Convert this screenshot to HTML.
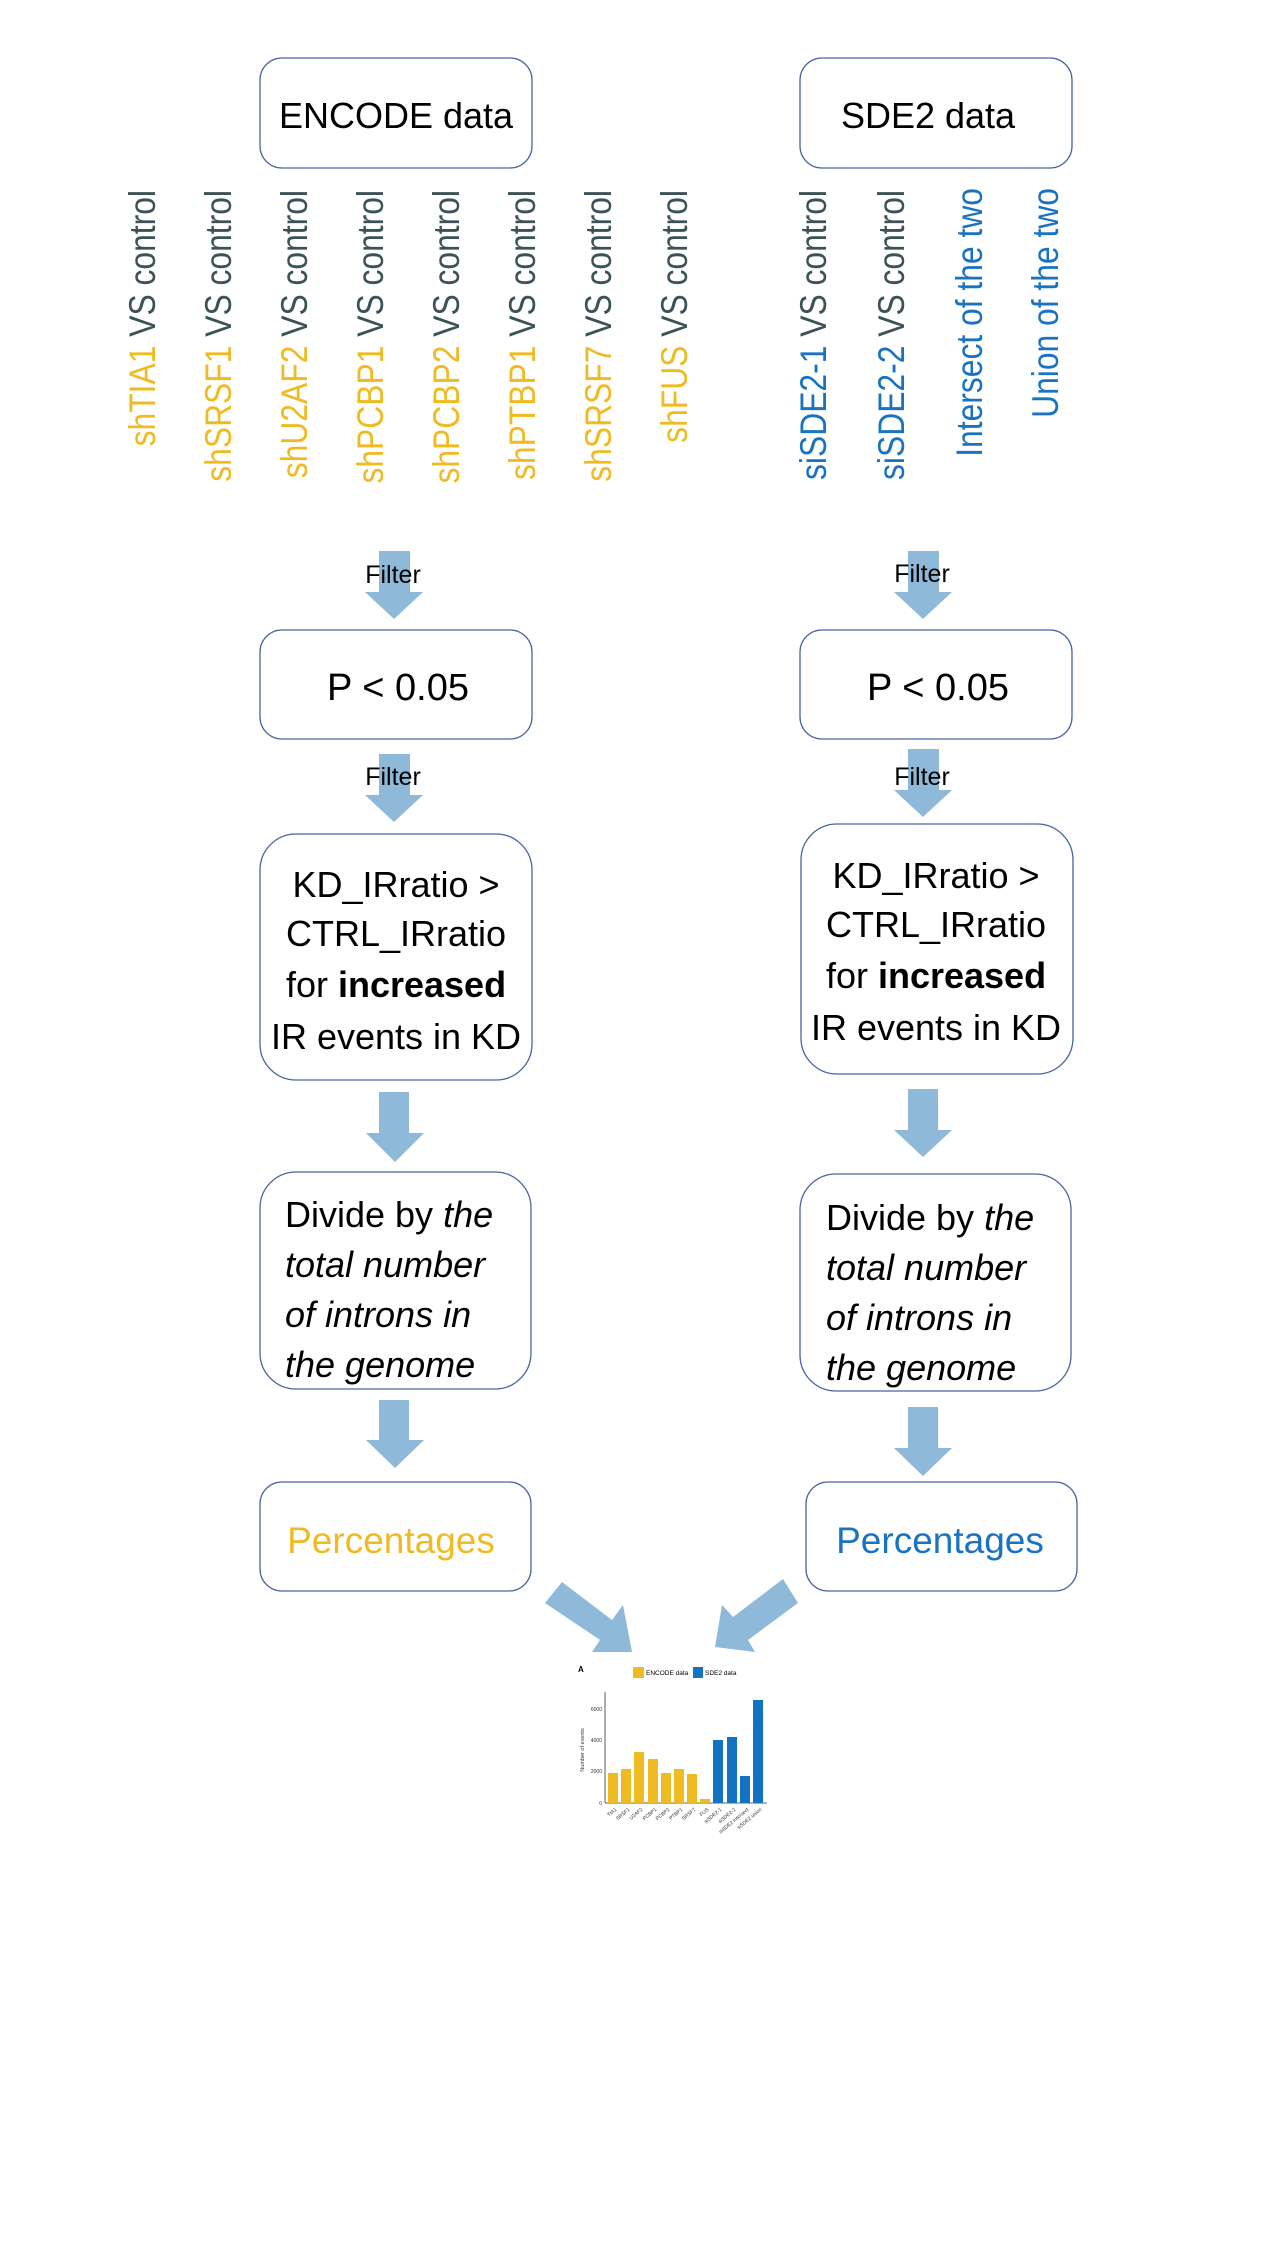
<!DOCTYPE html>
<html><head><meta charset="utf-8"><style>
html,body{margin:0;padding:0;background:#fff;}
svg{display:block;}
text{font-family:"Liberation Sans",sans-serif;}
</style></head><body>
<svg width="1265" height="2249" viewBox="0 0 1265 2249" xmlns="http://www.w3.org/2000/svg">
<rect width="1265" height="2249" fill="#fff"/>
<g fill="#fff" stroke="#4a64a0" stroke-width="1.3">
<rect x="260" y="58" width="272" height="110" rx="22"/>
<rect x="800" y="58" width="272" height="110" rx="22"/>
<rect x="260" y="630" width="272" height="109" rx="22"/>
<rect x="800" y="630" width="272" height="109" rx="22"/>
<rect x="260" y="834" width="272" height="246" rx="36"/>
<rect x="801" y="824" width="272" height="250" rx="36"/>
<rect x="260" y="1172" width="271" height="217" rx="36"/>
<rect x="800" y="1174" width="271" height="217" rx="36"/>
<rect x="260" y="1482" width="271" height="109" rx="22"/>
<rect x="806" y="1482" width="271" height="109" rx="22"/>
</g>
<g font-size="36" fill="#000" text-anchor="middle">
<text x="396" y="128">ENCODE data</text>
<text x="928" y="128">SDE2 data</text>
<text x="398" y="700" font-size="38">P &lt; 0.05</text>
<text x="938" y="700" font-size="38">P &lt; 0.05</text>
<text x="396" y="897">KD_IRratio &gt;</text>
<text x="396" y="946">CTRL_IRratio</text>
<text x="396" y="997">for <tspan font-weight="bold">increased</tspan></text>
<text x="396" y="1049">IR events in KD</text>
<text x="936" y="888">KD_IRratio &gt;</text>
<text x="936" y="937">CTRL_IRratio</text>
<text x="936" y="988">for <tspan font-weight="bold">increased</tspan></text>
<text x="936" y="1040">IR events in KD</text>
</g>
<g font-size="36" fill="#000" text-anchor="start">
<text x="285" y="1227">Divide by <tspan font-style="italic">the</tspan></text>
<text x="285" y="1277" font-style="italic">total number</text>
<text x="285" y="1327" font-style="italic">of introns in</text>
<text x="285" y="1377" font-style="italic">the genome</text>
<text x="826" y="1230">Divide by <tspan font-style="italic">the</tspan></text>
<text x="826" y="1280" font-style="italic">total number</text>
<text x="826" y="1330" font-style="italic">of introns in</text>
<text x="826" y="1380" font-style="italic">the genome</text>
</g>
<text x="391" y="1553" font-size="37" fill="#efbb23" text-anchor="middle">Percentages</text>
<text x="940" y="1553" font-size="37" fill="#1a73c1" text-anchor="middle">Percentages</text>
<!-- rotated labels -->
<g font-size="37" text-anchor="end">
<text transform="translate(155,190) rotate(-90) scale(0.86,1)"><tspan fill="#efbb23">shTIA1</tspan><tspan fill="#3c5257"> VS control</tspan></text>
<text transform="translate(231,190) rotate(-90) scale(0.86,1)"><tspan fill="#efbb23">shSRSF1</tspan><tspan fill="#3c5257"> VS control</tspan></text>
<text transform="translate(307,190) rotate(-90) scale(0.86,1)"><tspan fill="#efbb23">shU2AF2</tspan><tspan fill="#3c5257"> VS control</tspan></text>
<text transform="translate(383,190) rotate(-90) scale(0.86,1)"><tspan fill="#efbb23">shPCBP1</tspan><tspan fill="#3c5257"> VS control</tspan></text>
<text transform="translate(459,190) rotate(-90) scale(0.86,1)"><tspan fill="#efbb23">shPCBP2</tspan><tspan fill="#3c5257"> VS control</tspan></text>
<text transform="translate(535,190) rotate(-90) scale(0.86,1)"><tspan fill="#efbb23">shPTBP1</tspan><tspan fill="#3c5257"> VS control</tspan></text>
<text transform="translate(611,190) rotate(-90) scale(0.86,1)"><tspan fill="#efbb23">shSRSF7</tspan><tspan fill="#3c5257"> VS control</tspan></text>
<text transform="translate(687,190) rotate(-90) scale(0.86,1)"><tspan fill="#efbb23">shFUS</tspan><tspan fill="#3c5257"> VS control</tspan></text>
<text transform="translate(826,190) rotate(-90) scale(0.86,1)"><tspan fill="#1a73c1">siSDE2-1</tspan><tspan fill="#3c5257"> VS control</tspan></text>
<text transform="translate(904,190) rotate(-90) scale(0.86,1)"><tspan fill="#1a73c1">siSDE2-2</tspan><tspan fill="#3c5257"> VS control</tspan></text>
<text transform="translate(982,188) rotate(-90) scale(0.86,1)" fill="#1a73c1">Intersect of the two</text>
<text transform="translate(1058,188) rotate(-90) scale(0.86,1)" fill="#1a73c1">Union of the two</text>
</g>
<!-- arrows -->
<g fill="#8fb9d8">
<polygon points="379,551 410,551 410,592 423,592 394,619 365,592 379,592"/>
<polygon points="908,551 939,551 939,592 952,592 923,619 894,592 908,592"/>
<polygon points="379,754 410,754 410,795 423,795 394,822 365,795 379,795"/>
<polygon points="908,749 939,749 939,790 952,790 923,817 894,790 908,790"/>
<polygon points="379,1092 409,1092 409,1133 424,1133 395,1162 366,1133 379,1133"/>
<polygon points="908,1089 938,1089 938,1130 952,1130 923,1157 894,1130 908,1130"/>
<polygon points="379,1400 409,1400 409,1440 424,1440 395,1468 366,1440 379,1440"/>
<polygon points="908,1407 938,1407 938,1448 952,1448 923,1476 894,1448 908,1448"/>
<polygon points="545,1603 562,1582 612,1620 623,1605 632,1652 592,1652 600,1640"/>
<polygon points="783,1579 798,1603 748,1640 755,1652 715,1647 722,1605 733,1617"/>
</g>
<g font-size="25" fill="#000" text-anchor="middle">
<text x="393" y="583">Filter</text>
<text x="922" y="582">Filter</text>
<text x="393" y="785">Filter</text>
<text x="922" y="785">Filter</text>
</g>
<!-- chart -->
<g font-family="Liberation Sans,sans-serif">
<text x="578" y="1672" font-size="8" font-weight="bold">A</text>
<rect x="633" y="1667" width="11" height="11" fill="#efbb23"/>
<text x="646" y="1675" font-size="6.5">ENCODE data</text>
<rect x="693" y="1667" width="10" height="11" fill="#1273c3"/>
<text x="705" y="1675" font-size="6.5">SDE2 data</text>
<line x1="605" y1="1692" x2="605" y2="1803" stroke="#333" stroke-width="0.8"/>
<line x1="605" y1="1803" x2="767" y2="1803" stroke="#333" stroke-width="0.8"/>
<g font-size="5" text-anchor="end" fill="#333">
<text x="602" y="1711">6000</text><text x="602" y="1742">4000</text><text x="602" y="1773">2000</text><text x="602" y="1805">0</text>
</g>
<text transform="translate(584,1750) rotate(-90)" font-size="5.5" text-anchor="middle" fill="#333">Number of events</text>
<g fill="#efbb23">
<rect x="608" y="1773" width="10" height="30"/>
<rect x="621" y="1769" width="10" height="34"/>
<rect x="634" y="1752" width="10" height="51"/>
<rect x="648" y="1759" width="10" height="44"/>
<rect x="661" y="1773" width="10" height="30"/>
<rect x="674" y="1769" width="10" height="34"/>
<rect x="687" y="1774" width="10" height="29"/>
<rect x="700" y="1799" width="10" height="4"/>
</g>
<g fill="#1273c3">
<rect x="713" y="1740" width="10" height="63"/>
<rect x="727" y="1737" width="10" height="66"/>
<rect x="740" y="1776" width="10" height="27"/>
<rect x="753" y="1700" width="10" height="103"/>
</g>
<g font-size="5" fill="#333" text-anchor="end">
<text transform="translate(617,1810) rotate(-40)">TIA1</text>
<text transform="translate(630,1810) rotate(-40)">SRSF1</text>
<text transform="translate(643,1810) rotate(-40)">U2AF2</text>
<text transform="translate(657,1810) rotate(-40)">PCBP1</text>
<text transform="translate(670,1810) rotate(-40)">PCBP2</text>
<text transform="translate(683,1810) rotate(-40)">PTBP1</text>
<text transform="translate(696,1810) rotate(-40)">SRSF7</text>
<text transform="translate(709,1810) rotate(-40)">FUS</text>
<text transform="translate(722,1810) rotate(-40)">siSDE2-1</text>
<text transform="translate(736,1810) rotate(-40)">siSDE2-2</text>
<text transform="translate(749,1810) rotate(-40)">siSDE2 intersect</text>
<text transform="translate(762,1810) rotate(-40)">siSDE2 union</text>
</g>
</g>
</svg>
</body></html>
